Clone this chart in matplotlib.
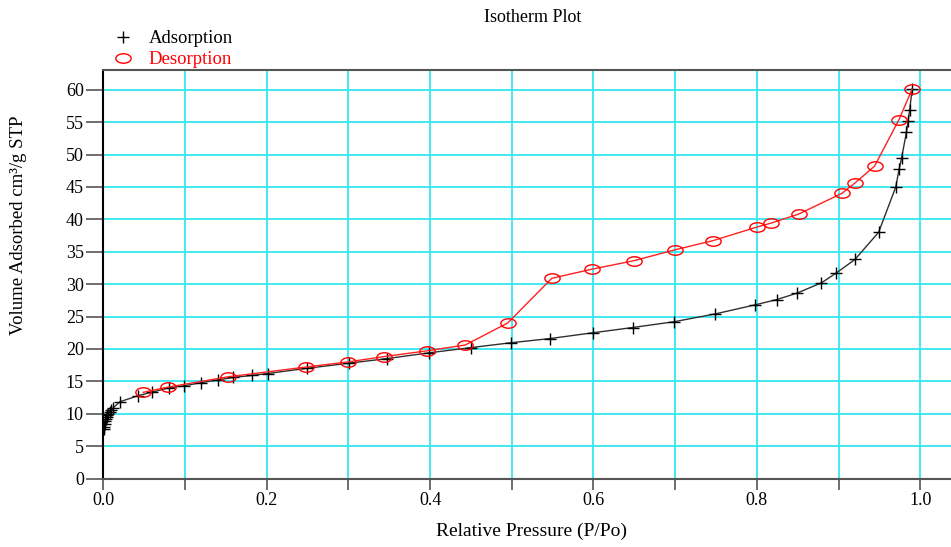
import numpy as np
import matplotlib
matplotlib.use("Agg")
import matplotlib.pyplot as plt
import matplotlib.path as mpath
from matplotlib.lines import Line2D

# 1. Data
ads_p = [0.0005, 0.001, 0.0015, 0.002, 0.003, 0.004, 0.005, 0.006, 0.008, 0.010, 0.012,
         0.0205, 0.043, 0.059, 0.080, 0.099, 0.120, 0.140, 0.159, 0.182,
         0.201, 0.249, 0.301, 0.347, 0.399, 0.450, 0.499, 0.547, 0.600, 0.648,
         0.699, 0.749, 0.798, 0.824, 0.849, 0.879, 0.897, 0.920, 0.949, 0.970,
         0.974, 0.977, 0.983, 0.985, 0.987, 0.990]
ads_v = [7.6, 8.0, 8.4, 8.8, 9.2, 9.5, 9.8, 10.0, 10.3, 10.6, 10.9,
         11.85, 12.8, 13.3, 14.0, 14.3, 14.8, 15.2, 15.6, 15.9,
         16.2, 17.0, 17.8, 18.5, 19.4, 20.2, 20.95, 21.6, 22.5, 23.3,
         24.2, 25.4, 26.8, 27.6, 28.6, 30.2, 31.7, 33.8, 38.0, 45.0,
         47.7, 49.4, 53.4, 55.1, 56.9, 60.1]

des_p = [0.990, 0.974, 0.944, 0.920, 0.904, 0.851, 0.817, 0.800, 0.746, 0.700,
         0.649, 0.598, 0.549, 0.495, 0.443, 0.396, 0.343, 0.300, 0.248, 0.153,
         0.079, 0.049]
des_v = [60.1, 55.4, 48.2, 45.6, 44.0, 40.8, 39.4, 38.8, 36.7, 35.3,
         33.6, 32.3, 30.9, 24.0, 20.6, 19.7, 18.8, 18.0, 17.2, 15.7,
         14.1, 13.3]

x_ticks = np.round(np.arange(0, 1.01, 0.1), 1)
x_labels = [f"{t:.1f}" if i % 2 == 0 else "" for i, t in enumerate(x_ticks)]
y_ticks = np.arange(0, 61, 5)

# 2. Figure setup
plt.rcParams['font.family'] = ['Liberation Serif', 'DejaVu Serif']
W, H = 951, 547
fig = plt.figure(figsize=(W / 100, H / 100), dpi=100)
ax = fig.add_axes([103.3 / W, (H - 478.5) / H, (W - 103.3) / W, (478.5 - 70) / H])

# flattened circle marker for desorption
circ = mpath.Path.unit_circle()
oval = mpath.Path(circ.vertices * np.array([1.0, 0.62]), circ.codes)

# 3. Curves
ax.plot(ads_p, ads_v, color='#303030', linewidth=1.0, marker='+', markersize=9,
        markeredgewidth=1.0, markeredgecolor='black', zorder=3)
ax.plot(des_p, des_v, color='#ff2020', linewidth=1.0, marker=oval, markersize=11,
        markerfacecolor='none', markeredgecolor='red', markeredgewidth=1.0, zorder=4)

# 4. Axes styling
ax.set_xlim(0, (W - 103.3) / 817)
ax.set_ylim(0, (478.5 - 70) / 6.48)
ax.set_xticks(x_ticks)
ax.set_xticklabels(x_labels)
ax.set_yticks(y_ticks)
ax.tick_params(axis='x', direction='out', length=8, width=1.2, color='#555555',
               labelsize=13, pad=2)
ax.tick_params(axis='y', direction='out', length=12, width=1.2, color='#555555',
               labelsize=13, pad=2)
ax.grid(True, color='#33e6f0', linewidth=1.3)
ax.set_axisbelow(True)
ax.spines['right'].set_visible(False)
ax.spines['left'].set_color('black')
ax.spines['top'].set_color('#555555')
ax.spines['bottom'].set_color('#555555')
for s in ['left', 'top', 'bottom']:
    ax.spines[s].set_linewidth(1.5)

# 5. Text
fig.text(533 / W, 1 - 17 / H, 'Isotherm Plot', ha='center', va='center', fontsize=13)
fig.text(531 / W, 1 - 531 / H, 'Relative Pressure (P/Po)', ha='center', va='center', fontsize=14)
fig.text(19 / W, 1 - 225 / H, 'Volume Adsorbed cm³/g STP', ha='center', va='center',
         rotation=90, fontsize=13.5)

handles = [Line2D([], [], linestyle='none', marker='+', markersize=9, color='black'),
           Line2D([], [], linestyle='none', marker=oval, markersize=11,
                  markerfacecolor='none', markeredgecolor='red', color='red')]
fig.legend(handles, ['Adsorption', 'Desorption'], loc='upper left',
           bbox_to_anchor=(112 / W, 1 - 30 / H), frameon=False, fontsize=13.5,
           labelcolor=['black', 'red'], handlelength=1.2, handletextpad=0.75,
           labelspacing=0.22, borderpad=0, borderaxespad=0)

fig.savefig('out.png', dpi=100)
